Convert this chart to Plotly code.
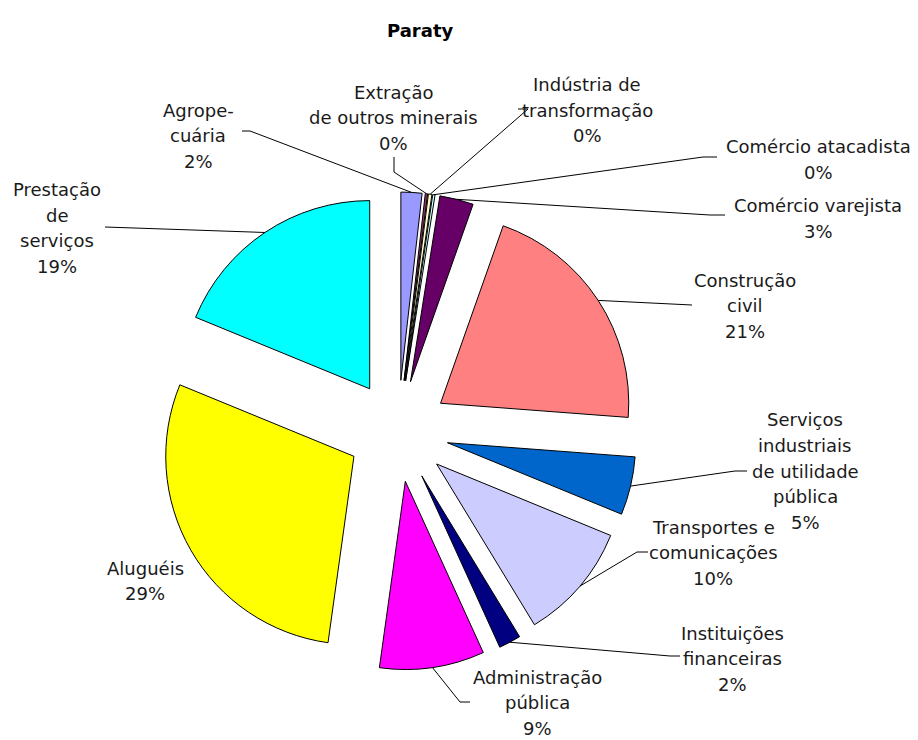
import math
import plotly.graph_objects as go

# ---------------- data ----------------
title = "Paraty"
labels = [
    "Agrope-<br>cuária",
    "Extração<br>de outros minerais",
    "Indústria de<br>transformação",
    "Comércio atacadista",
    "Comércio varejista",
    "Construção<br>civil",
    "Serviços<br>industriais<br>de utilidade<br>pública",
    "Transportes e<br>comunicações",
    "Instituições<br>financeiras",
    "Administração<br>pública",
    "Aluguéis",
    "Prestação<br>de<br>serviços",
]
values = [1.8, 0.2, 0.3, 0.2, 2.9, 20.8, 5.0, 10.1, 1.9, 9.0, 29.0, 18.8]
colors = ["#9999FF", "#993366", "#FFFFCC", "#CCFFFF", "#660066", "#FF8080",
          "#0066CC", "#CCCCFF", "#000080", "#FF00FF", "#FFFF00", "#00FFFF"]

# ---------------- layout settings ----------------
OFF = 8                      # default page body margin
W, H = 918 - OFF, 740 - OFF
PULL = 0.27
CX, CY, HALF = 398, 431, 239          # pie box centre / half size (page px)
FONT = "DejaVu Sans"
FS = 18
LINE_H = 25.5

# label placement: text centre x, first line centre y, leader-line points (page px)
placement = [
    (198, 110, [(250, 131), (242, 131)]),
    (393, 92, [(394, 172), (394, 157)]),
    (587, 85, [(528, 109), (518, 109)]),
    (818, 147, [(703, 157), (717, 157)]),
    (818, 206, [(710, 215), (725, 215)]),
    (745, 280, [(692, 305)]),
    (805, 420, [(735, 471), (747, 471)]),
    (713, 527, [(637, 552), (648, 552)]),
    (732, 633, [(670, 656), (680, 656)]),
    (537, 677, [(460, 702), (470, 702)]),
    (145, 568, None),
    (57, 190, [(105, 227)]),
]

def px(x):
    return (x - OFF) / W

def py(y):
    return 1 - (y - OFF) / H

dom_x = [px(CX - HALF), px(CX + HALF)]
dom_y = [py(CY + HALF), py(CY - HALF)]

fig = go.Figure(go.Pie(
    labels=[l.replace("<br>", " ") for l in labels],
    values=values,
    sort=False,
    direction="clockwise",
    rotation=0,
    pull=[PULL] * len(values),
    marker=dict(colors=colors, line=dict(color="black", width=1)),
    textinfo="none",
    showlegend=False,
    domain=dict(x=dom_x, y=dom_y),
))

total = sum(values)
radius = HALF / (1 + PULL)
annotations = []
shapes = []
cum = 0.0
for lab, v, (tx, ty, pts) in zip(labels, values, placement):
    mid = (cum + v / 2) / total * 2 * math.pi
    cum += v
    ux, uy = math.sin(mid), -math.cos(mid)
    ax = CX + radius * (1 + PULL) * ux
    ay = CY + radius * (1 + PULL) * uy
    pct = f"{round(v / total * 100)}%"
    lines = lab.split("<br>") + [pct]
    for i, line in enumerate(lines):
        annotations.append(dict(
            x=px(tx), y=py(ty + i * LINE_H), xref="paper", yref="paper",
            text=line, showarrow=False, xanchor="center", yanchor="middle",
            font=dict(family=FONT, size=FS, color="#1a1a1a"),
        ))
    if pts:
        path = f"M {px(ax)} {py(ay)}"
        for (qx, qy) in pts:
            path += f" L {px(qx)} {py(qy)}"
        shapes.append(dict(type="path", path=path, xref="paper", yref="paper",
                           line=dict(color="black", width=1)))

annotations.append(dict(
    x=px(420), y=py(31), xref="paper", yref="paper", text="<b>" + title + "</b>",
    showarrow=False, xanchor="center", yanchor="middle",
    font=dict(family=FONT, size=18, color="black"),
))

fig.update_layout(
    width=W, height=H,
    margin=dict(l=0, r=0, t=0, b=0),
    paper_bgcolor="white", plot_bgcolor="white",
    annotations=annotations, shapes=shapes,
)

fig.write_html("out.html")
